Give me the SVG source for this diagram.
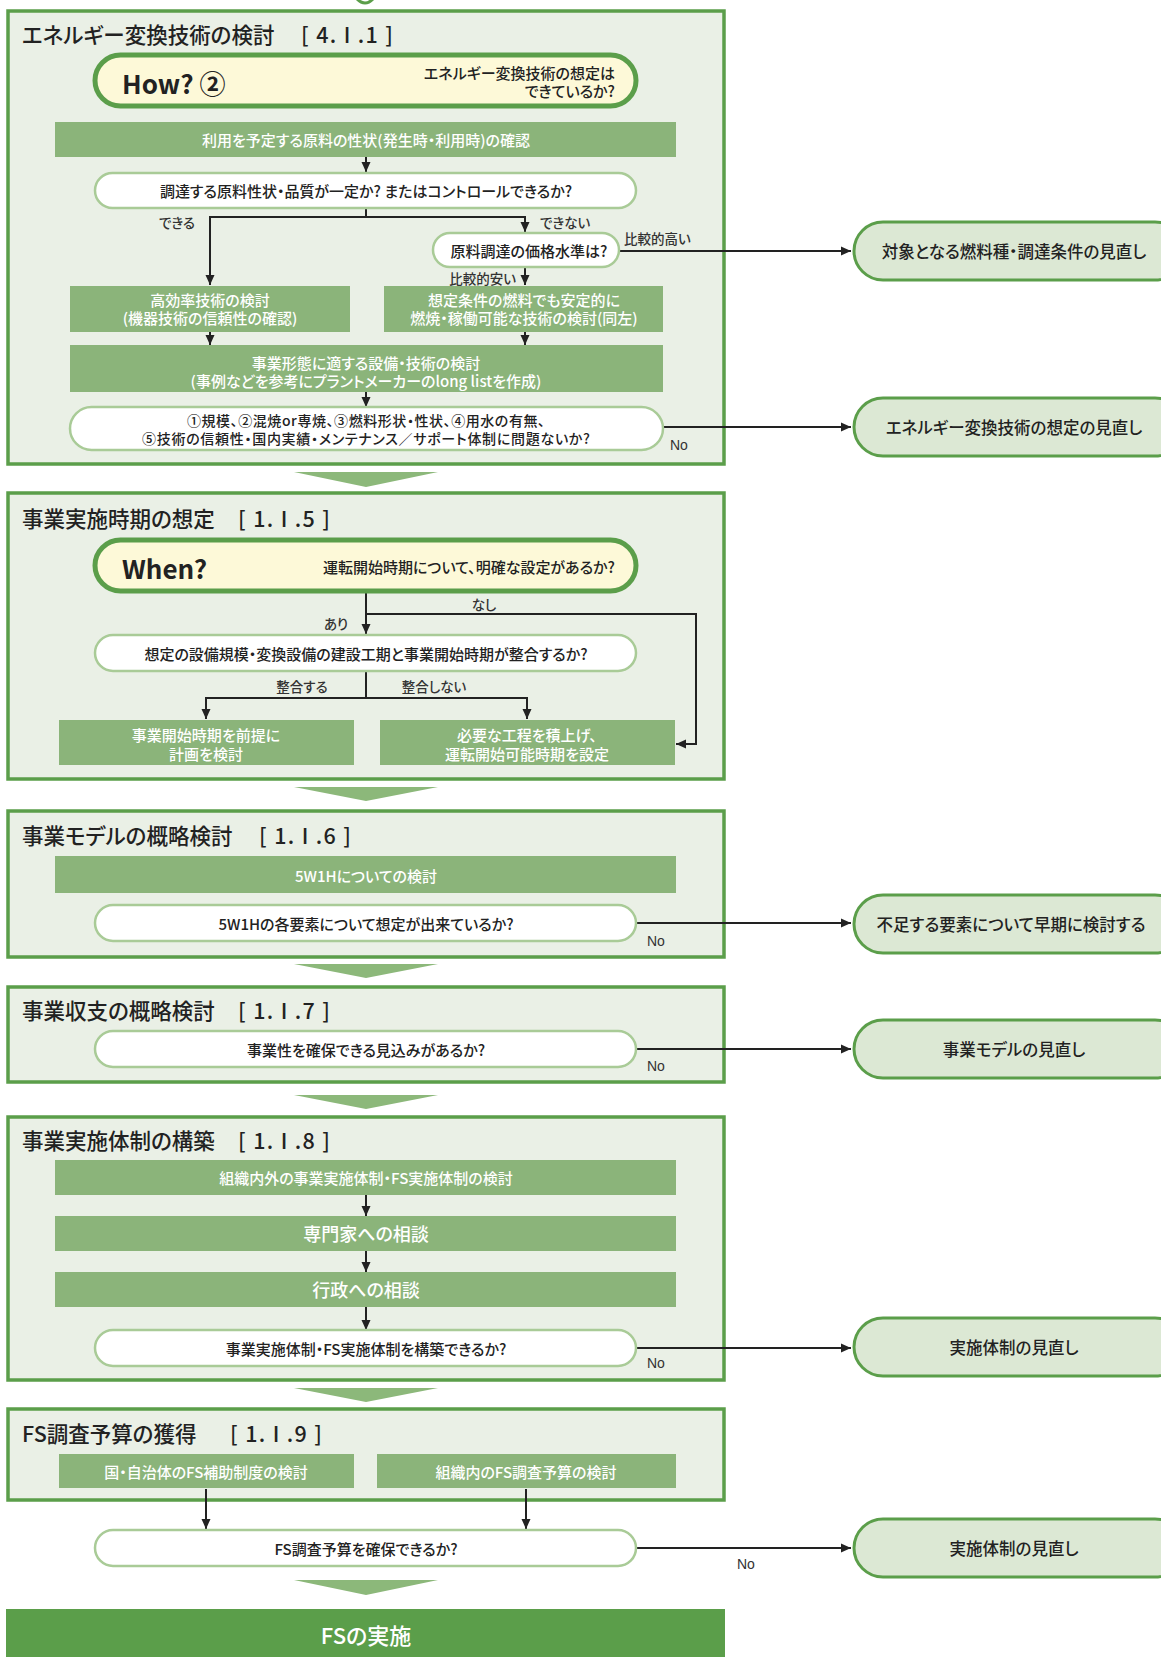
<svg xmlns="http://www.w3.org/2000/svg" width="1161" height="1657" viewBox="0 0 1161 1657">
  <defs>
    <style>
      text { font-family: "Noto Sans CJK JP", "Noto Sans", sans-serif; dominant-baseline: central; font-weight: 500; font-feature-settings: "palt"; }
      .sec { fill: #eaf0e6; stroke: #5b9e4a; stroke-width: 3.5; }
      .title { font-size: 21.5px; fill: #222; }
      .bar { fill: #8bb47a; }
      .bartxt { font-size: 15px; fill: #fff; text-anchor: middle; }
      .bigtxt { font-size: 18px; fill: #fff; text-anchor: middle; }
      .q { fill: #fff; stroke: #a9cb97; stroke-width: 2.5; }
      .qtxt { font-size: 15px; fill: #222; text-anchor: middle; }
      .qsmall { font-size: 14px; }
      .key { fill: #fdf9d8; stroke: #5b9e4a; stroke-width: 5; }
      .keyhead { font-size: 26px; font-weight: bold; fill: #222; }
      .keytxt { font-size: 15px; fill: #222; text-anchor: end; }
      .out { fill: #dce8d4; stroke: #5b9e4a; stroke-width: 3; }
      .outtxt { font-size: 16.5px; fill: #222; text-anchor: middle; }
      .lbl { font-size: 13.5px; fill: #333; }
      .no { font-size: 14px; fill: #333; font-family: "Liberation Sans", sans-serif; font-weight: normal; }
      .tri { fill: #8cb87a; }
      .ln { fill: none; stroke: #222; stroke-width: 2; marker-end: url(#ah); }
    </style>
    <marker id="ah" viewBox="0 0 10 10" refX="10" refY="5" markerWidth="10" markerHeight="10" markerUnits="userSpaceOnUse" orient="auto">
      <path d="M0,0.5 L10,5 L0,9.5 z" fill="#222"/>
    </marker>
  </defs>

  <!-- tail of the shape above -->
  <path d="M357,-1 Q365,7 373,-1" fill="none" stroke="#5b9e4a" stroke-width="3"/>

  <!-- section frames -->
  <g id="sections">
    <rect class="sec" x="8" y="11" width="716" height="453"/>
    <rect class="sec" x="8" y="493" width="716" height="286"/>
    <rect class="sec" x="8" y="811" width="716" height="146"/>
    <rect class="sec" x="8" y="987" width="716" height="95"/>
    <rect class="sec" x="8" y="1117" width="716" height="263"/>
    <rect class="sec" x="8" y="1409" width="716" height="91"/>
  </g>

  <!-- step triangles between sections -->
  <g id="steps">
    <polygon class="tri" points="294,472 438,472 366,487"/>
    <polygon class="tri" points="294,787 438,787 366,801"/>
    <polygon class="tri" points="294,964 438,964 366,978"/>
    <polygon class="tri" points="294,1095 438,1095 366,1109"/>
    <polygon class="tri" points="294,1388 438,1388 366,1402"/>
    <polygon class="tri" points="294,1580 438,1580 366,1595"/>
  </g>

  <!-- section titles -->
  <g id="titles">
    <text class="title" x="22" y="33">エネルギー変換技術の検討</text>
    <text class="title" x="301" y="33" textLength="92">[ 4. I .1 ]</text>
    <text class="title" x="22" y="517">事業実施時期の想定</text>
    <text class="title" x="238" y="517" textLength="92">[ 1. I .5 ]</text>
    <text class="title" x="22" y="834">事業モデルの概略検討</text>
    <text class="title" x="259" y="834" textLength="92">[ 1. I .6 ]</text>
    <text class="title" x="22" y="1009">事業収支の概略検討</text>
    <text class="title" x="238" y="1009" textLength="92">[ 1. I .7 ]</text>
    <text class="title" x="22" y="1139">事業実施体制の構築</text>
    <text class="title" x="238" y="1139" textLength="92">[ 1. I .8 ]</text>
    <text class="title" x="22" y="1432">FS調査予算の獲得</text>
    <text class="title" x="230" y="1432" textLength="92">[ 1. I .9 ]</text>
  </g>

  <!-- connectors -->
  <g id="connectors">
    <path class="ln" d="M366,157 V172"/>
    <path class="ln" d="M366,208 V217 H210 V285"/>
    <path class="ln" d="M366,217 H525 V232"/>
    <path class="ln" d="M525,267 V285"/>
    <path class="ln" d="M619,251 H851"/>
    <path class="ln" d="M210,332 V345"/>
    <path class="ln" d="M525,332 V345"/>
    <path class="ln" d="M366,392 V407"/>
    <path class="ln" d="M663,427 H851"/>

    <path class="ln" d="M366,591 V634"/>
    <path class="ln" d="M366,614 H696 V744 H676"/>
    <path class="ln" d="M366,671 V698 H206 V719"/>
    <path class="ln" d="M366,698 H527 V719"/>

    <path class="ln" d="M637,923 H851"/>
    <path class="ln" d="M637,1049 H851"/>

    <path class="ln" d="M366,1195 V1216"/>
    <path class="ln" d="M366,1251 V1272"/>
    <path class="ln" d="M366,1307 V1330"/>
    <path class="ln" d="M637,1348 H851"/>

    <path class="ln" d="M206,1489 V1529"/>
    <path class="ln" d="M526,1489 V1529"/>
    <path class="ln" d="M637,1548 H851"/>
  </g>

  <!-- connector labels -->
  <g id="labels">
    <text class="lbl" x="177" y="222" text-anchor="middle">できる</text>
    <text class="lbl" x="565" y="222" text-anchor="middle">できない</text>
    <text class="lbl" x="624" y="238">比較的高い</text>
    <text class="lbl" x="516" y="278" text-anchor="end">比較的安い</text>
    <text class="no" x="670" y="445">No</text>
    <text class="lbl" x="484" y="604" text-anchor="middle">なし</text>
    <text class="lbl" x="336" y="623" text-anchor="middle">あり</text>
    <text class="lbl" x="302" y="686" text-anchor="middle">整合する</text>
    <text class="lbl" x="434" y="686" text-anchor="middle">整合しない</text>
    <text class="no" x="647" y="941">No</text>
    <text class="no" x="647" y="1066">No</text>
    <text class="no" x="647" y="1363">No</text>
    <text class="no" x="737" y="1564">No</text>
  </g>

  <!-- section 1 -->
  <g id="how2">
    <rect class="key" x="95" y="55" width="541" height="51" rx="25.5"/>
    <text class="keyhead" x="122" y="82">How? ②</text>
    <text class="keytxt" x="615" y="72">エネルギー変換技術の想定は</text>
    <text class="keytxt" x="615" y="90">できているか?</text>
  </g>
  <g id="material-check">
    <rect class="bar" x="55" y="122" width="621" height="35"/>
    <text class="bartxt" x="366" y="139">利用を予定する原料の性状(発生時・利用時)の確認</text>
  </g>
  <g id="material-q">
    <rect class="q" x="95" y="173" width="541" height="35" rx="17.5"/>
    <text class="qtxt" x="366" y="190">調達する原料性状・品質が一定か? またはコントロールできるか?</text>
  </g>
  <g id="price-q">
    <rect class="q" x="433" y="233" width="186" height="34" rx="17"/>
    <text class="qtxt" x="529" y="250">原料調達の価格水準は?</text>
  </g>
  <g id="high-eff">
    <rect class="bar" x="70" y="286" width="280" height="46"/>
    <text class="bartxt" x="210" y="299">高効率技術の検討</text>
    <text class="bartxt" x="210" y="317">(機器技術の信頼性の確認)</text>
  </g>
  <g id="stable-tech">
    <rect class="bar" x="384" y="286" width="279" height="46"/>
    <text class="bartxt" x="524" y="299">想定条件の燃料でも安定的に</text>
    <text class="bartxt" x="524" y="317">燃焼・稼働可能な技術の検討(同左)</text>
  </g>
  <g id="equipment">
    <rect class="bar" x="70" y="345" width="593" height="47"/>
    <text class="bartxt" x="366" y="362">事業形態に適する設備・技術の検討</text>
    <text class="bartxt" x="366" y="380">(事例などを参考にプラントメーカーのlong listを作成)</text>
  </g>
  <g id="criteria-q">
    <rect class="q" x="70" y="407" width="593" height="43" rx="21.5"/>
    <text class="qtxt qsmall" x="366" y="420" textLength="358">①規模、②混焼or専焼、③燃料形状・性状、④用水の有無、</text>
    <text class="qtxt qsmall" x="366" y="437.5" textLength="448">⑤技術の信頼性・国内実績・メンテナンス／サポート体制に問題ないか?</text>
  </g>

  <!-- section 2 -->
  <g id="when">
    <rect class="key" x="95" y="540" width="541" height="51" rx="25.5"/>
    <text class="keyhead" x="122" y="567">When?</text>
    <text class="keytxt" x="615" y="566">運転開始時期について、明確な設定があるか?</text>
  </g>
  <g id="schedule-q">
    <rect class="q" x="95" y="635" width="541" height="36" rx="18"/>
    <text class="qtxt" x="366" y="653">想定の設備規模・変換設備の建設工期と事業開始時期が整合するか?</text>
  </g>
  <g id="plan-from-start">
    <rect class="bar" x="59" y="720" width="295" height="45"/>
    <text class="bartxt" x="206" y="734">事業開始時期を前提に</text>
    <text class="bartxt" x="206" y="753">計画を検討</text>
  </g>
  <g id="set-start">
    <rect class="bar" x="380" y="720" width="295" height="45"/>
    <text class="bartxt" x="527" y="734">必要な工程を積上げ、</text>
    <text class="bartxt" x="527" y="753">運転開始可能時期を設定</text>
  </g>

  <!-- section 3 -->
  <g id="five-w">
    <rect class="bar" x="55" y="856" width="621" height="37"/>
    <text class="bartxt" x="366" y="875">5W1Hについての検討</text>
  </g>
  <g id="five-w-q">
    <rect class="q" x="95" y="905" width="541" height="36" rx="18"/>
    <text class="qtxt" x="366" y="923">5W1Hの各要素について想定が出来ているか?</text>
  </g>

  <!-- section 4 -->
  <g id="profit-q">
    <rect class="q" x="95" y="1031" width="541" height="36" rx="18"/>
    <text class="qtxt" x="366" y="1049">事業性を確保できる見込みがあるか?</text>
  </g>

  <!-- section 5 -->
  <g id="org">
    <rect class="bar" x="55" y="1160" width="621" height="35"/>
    <text class="bartxt" x="366" y="1177">組織内外の事業実施体制・FS実施体制の検討</text>
  </g>
  <g id="expert">
    <rect class="bar" x="55" y="1216" width="621" height="35"/>
    <text class="bigtxt" x="366" y="1233">専門家への相談</text>
  </g>
  <g id="admin">
    <rect class="bar" x="55" y="1272" width="621" height="35"/>
    <text class="bigtxt" x="366" y="1289">行政への相談</text>
  </g>
  <g id="org-q">
    <rect class="q" x="95" y="1330" width="541" height="36" rx="18"/>
    <text class="qtxt" x="366" y="1348">事業実施体制・FS実施体制を構築できるか?</text>
  </g>

  <!-- section 6 -->
  <g id="subsidy">
    <rect class="bar" x="59" y="1454" width="295" height="34"/>
    <text class="bartxt" x="206" y="1471">国・自治体のFS補助制度の検討</text>
  </g>
  <g id="internal-budget">
    <rect class="bar" x="377" y="1454" width="299" height="34"/>
    <text class="bartxt" x="526" y="1471">組織内のFS調査予算の検討</text>
  </g>
  <g id="budget-q">
    <rect class="q" x="95" y="1530" width="541" height="36" rx="18"/>
    <text class="qtxt" x="366" y="1548">FS調査予算を確保できるか?</text>
  </g>

  <g id="fs">
    <rect x="6" y="1609" width="719" height="50" fill="#5b9e4a"/>
    <text x="366" y="1634" font-size="22" fill="#fff" text-anchor="middle">FSの実施</text>
  </g>

  <!-- review outcomes -->
  <g id="review-fuel">
    <rect class="out" x="854" y="222" width="330" height="58" rx="29"/>
    <text class="outtxt" x="1014" y="251">対象となる燃料種・調達条件の見直し</text>
  </g>
  <g id="review-energy">
    <rect class="out" x="854" y="398" width="330" height="58" rx="29"/>
    <text class="outtxt" x="1014" y="427">エネルギー変換技術の想定の見直し</text>
  </g>
  <g id="review-elements">
    <rect class="out" x="854" y="895" width="330" height="58" rx="29"/>
    <text class="outtxt" x="1011" y="924">不足する要素について早期に検討する</text>
  </g>
  <g id="review-model">
    <rect class="out" x="854" y="1020" width="330" height="58" rx="29"/>
    <text class="outtxt" x="1014" y="1049">事業モデルの見直し</text>
  </g>
  <g id="review-org">
    <rect class="out" x="854" y="1318" width="330" height="58" rx="29"/>
    <text class="outtxt" x="1014" y="1347">実施体制の見直し</text>
  </g>
  <g id="review-budget">
    <rect class="out" x="854" y="1519" width="330" height="58" rx="29"/>
    <text class="outtxt" x="1014" y="1548">実施体制の見直し</text>
  </g>
</svg>
